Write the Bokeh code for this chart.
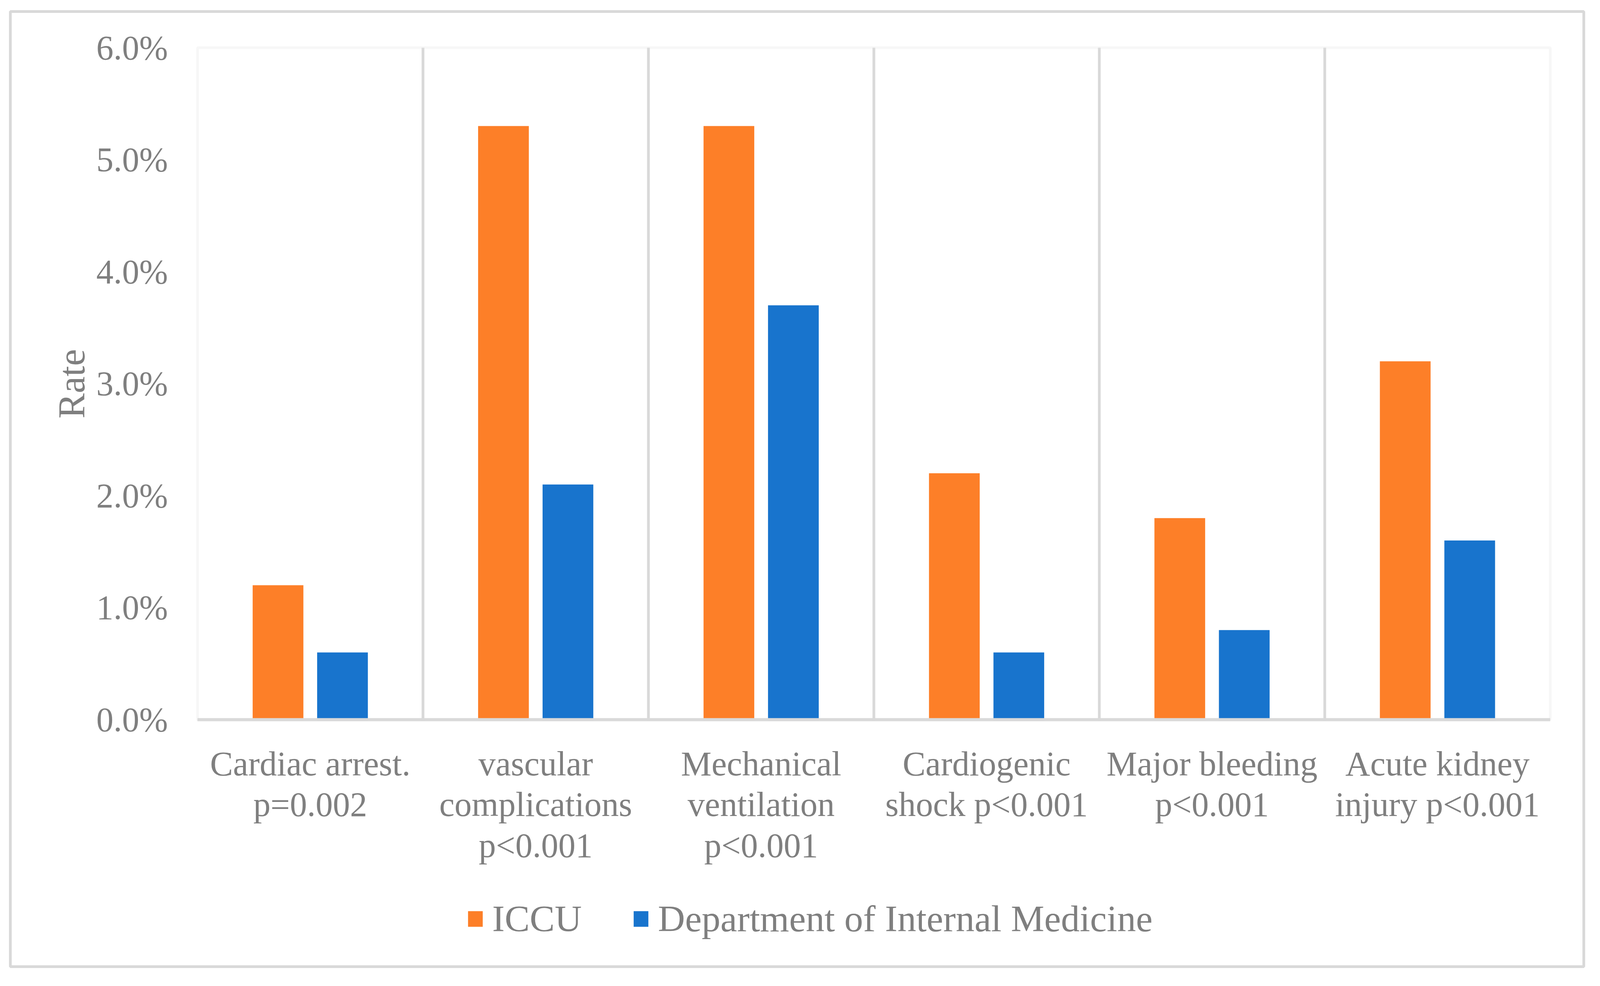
from bokeh.plotting import figure
from bokeh.models import (Range1d, FixedTicker, PrintfTickFormatter, Legend,
                          LegendItem, ColumnDataSource, BoxAnnotation)
from bokeh.embed import file_html
from bokeh.resources import INLINE

# ---- data ----
categories = ["Cardiac arrest.\np=0.002",
              "vascular\ncomplications\np<0.001",
              "Mechanical\nventilation\np<0.001",
              "Cardiogenic\nshock p<0.001",
              "Major bleeding\np<0.001",
              "Acute kidney\ninjury p<0.001"]
iccu = [1.2, 5.3, 5.3, 2.2, 1.8, 3.2]
internal_medicine = [0.6, 2.1, 3.7, 0.6, 0.8, 1.6]
series_names = ["ICCU", "Department of Internal Medicine"]
y_ticks = [0, 1, 2, 3, 4, 5, 6]

ORANGE = "#fd7f28"
BLUE = "#1874cd"
GRAY_TXT = "#7f7f7f"
FONT = "Liberation Serif"

# ---- layout (canvas pixels) ----
W, H = 4080, 2505
FR_L, FR_R, FR_T, FR_B = 26, 4054, 29, 2473          # chart-area border (frame)
PA_L, PA_R, PA_T, PA_B = 505.2, 3968.0, 121.5, 1841.0  # plot-area box

n = len(categories)
y_max = y_ticks[-1]
sx = (PA_R - PA_L) / n
sy = (PA_B - PA_T) / y_max
x_range = Range1d(-(PA_L - FR_L) / sx, n + (FR_R - PA_R) / sx)
y_range = Range1d(-(FR_B - PA_B) / sy, y_max + (PA_T - FR_T) / sy)

centers = [i + 0.5 for i in range(n)]
src = ColumnDataSource(dict(
    x1=[c - 0.143 for c in centers],
    x2=[c + 0.143 for c in centers],
    iccu=iccu,
    im=internal_medicine,
))

p = figure(width=W, height=H, x_range=x_range, y_range=y_range,
           output_backend="svg", toolbar_location=None,
           min_border_left=FR_L, min_border_right=W - FR_R,
           min_border_top=FR_T, min_border_bottom=H - FR_B)
p.background_fill_color = "white"
p.border_fill_color = "white"
p.outline_line_color = "#d9d9d9"
p.outline_line_width = 7
p.xgrid.visible = False
p.ygrid.visible = False

# plot-area box and category separators
plot_box = BoxAnnotation(left=0, right=n, bottom=0, top=y_max, fill_alpha=0,
                         line_color="#e3e3e3", line_width=7, level="underlay")
p.add_layout(plot_box)
seps = list(range(1, n))
p.segment(x0=seps, y0=[0] * len(seps), x1=seps, y1=[y_max] * len(seps),
          line_color="#d9d9d9", line_width=7, level="underlay")

r1 = p.vbar(x="x1", top="iccu", width=0.225, source=src, fill_color=ORANGE, line_color=None)
r2 = p.vbar(x="x2", top="im", width=0.225, source=src, fill_color=BLUE, line_color=None)

# x axis (at y = 0)
xa = p.xaxis[0]
xa.fixed_location = 0
xa.bounds = (0, n)
xa.ticker = FixedTicker(ticks=centers)
xa.major_label_overrides = {c: lab for c, lab in zip(centers, categories)}
xa.axis_line_color = "#d9d9d9"
xa.axis_line_width = 8
xa.major_tick_line_color = None
xa.minor_tick_line_color = None
xa.major_tick_out = 0
xa.major_tick_in = 0
xa.major_label_standoff = 64
xa.major_label_text_font = FONT
xa.major_label_text_font_size = "88px"
xa.major_label_text_color = GRAY_TXT
xa.major_label_text_line_height = 1.08

# y axis (at x = 0)
ya = p.yaxis[0]
ya.fixed_location = 0
ya.bounds = (0, y_max)
ya.ticker = FixedTicker(ticks=y_ticks)
ya.formatter = PrintfTickFormatter(format="%.1f%%")
ya.axis_line_color = None
ya.major_tick_line_color = None
ya.minor_tick_line_color = None
ya.major_tick_out = 0
ya.major_tick_in = 0
ya.major_label_standoff = 76
ya.major_label_text_font = FONT
ya.major_label_text_font_size = "88px"
ya.major_label_text_color = GRAY_TXT
ya.axis_label = "Rate"
ya.axis_label_text_font = FONT
ya.axis_label_text_font_size = "97px"
ya.axis_label_text_font_style = "normal"
ya.axis_label_text_color = GRAY_TXT
ya.axis_label_standoff = 6

# legend
legend = Legend(items=[LegendItem(label=series_names[0], renderers=[r1]),
                       LegendItem(label=series_names[1], renderers=[r2])],
                orientation="horizontal", location=(1167, 67),
                glyph_width=47, glyph_height=50, label_standoff=20, spacing=128,
                padding=0, margin=0, border_line_color=None,
                background_fill_alpha=0,
                label_text_font=FONT, label_text_font_size="96px",
                label_text_color=GRAY_TXT)
p.add_layout(legend, "center")

open("out.html", "w").write(file_html(p, INLINE))
